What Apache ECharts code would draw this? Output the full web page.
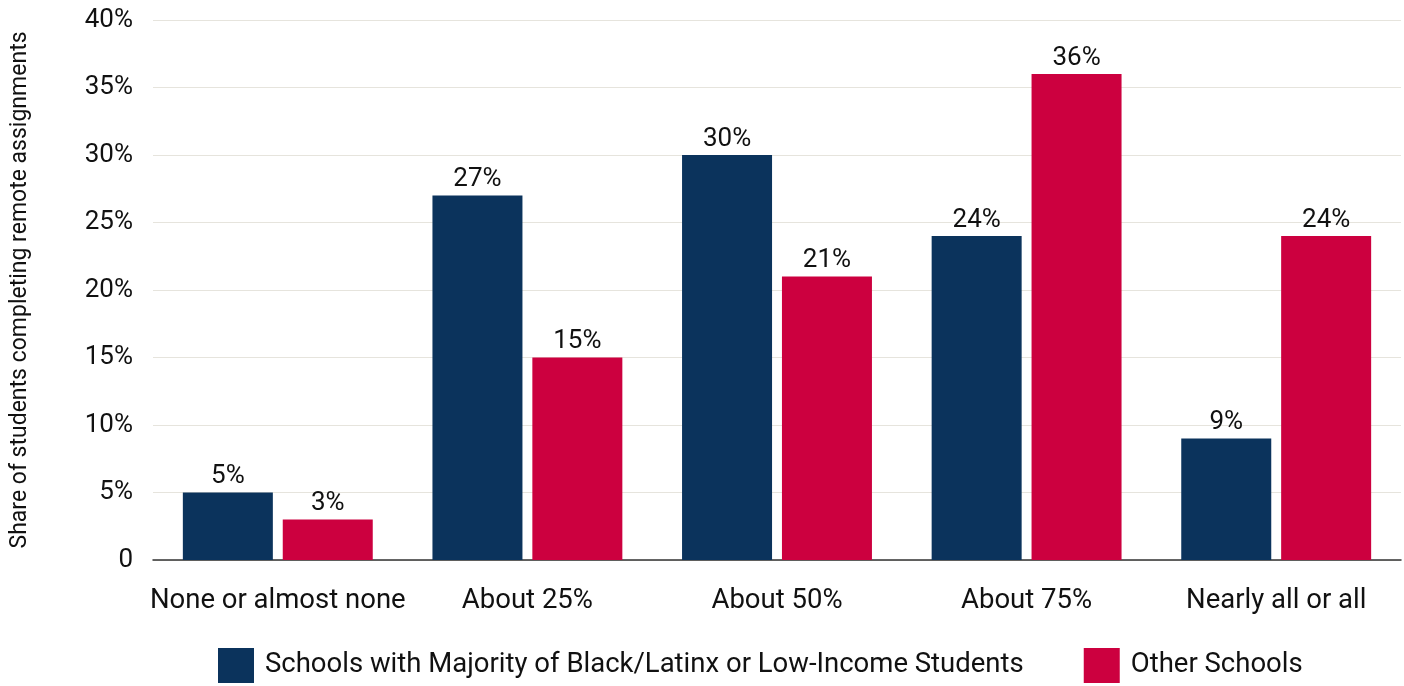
<!DOCTYPE html>
<html>
<head>
<meta charset="utf-8">
<script src="https://cdn.jsdelivr.net/npm/echarts@6/dist/echarts.min.js"></script>
<style>
html,body{margin:0;padding:0;background:#fff;}
#chart{width:1404px;height:686px;}
</style>
</head>
<body>
<div id="chart"></div>
<script>
const categories = ["None or almost none", "About 25%", "About 50%", "About 75%", "Nearly all or all"];
const seriesNames = ["Schools with Majority of Black/Latinx or Low-Income Students", "Other Schools"];
const majorityValues = [5, 27, 30, 24, 9];
const otherValues = [3, 15, 21, 36, 24];
const yAxisName = "Share of students completing remote assignments";

const chart = echarts.init(document.getElementById('chart'), null, {renderer: 'canvas'});
const font = 'Roboto';
const labelCfg = {
  show: true, position: 'top', distance: 3,
  fontFamily: font, fontSize: 26, color: '#111',
  formatter: p => p.value + '%'
};
chart.setOption({
  animation: false,
  textStyle: {fontFamily: font},
  grid: {left: 153, right: 3, top: 20, bottom: 126},
  legend: {
    top: 643, left: 213,
    itemWidth: 36, itemHeight: 35, itemGap: 60,
    icon: 'rect',
    textStyle: {fontFamily: font, fontSize: 27.5, color: '#111', padding: [5, 0, 0, 6]},
    data: seriesNames
  },
  xAxis: {
    type: 'category', data: categories,
    axisLine: {lineStyle: {color: '#333', width: 1.5}},
    axisTick: {show: false},
    axisLabel: {fontFamily: font, fontSize: 27.5, color: '#111', margin: 27, interval: 0}
  },
  yAxis: {
    type: 'value', min: 0, max: 40, interval: 5,
    name: yAxisName, nameLocation: 'middle', nameGap: 121, nameRotate: 90,
    nameTextStyle: {fontFamily: font, fontSize: 23, color: '#111'},
    axisLine: {show: false}, axisTick: {show: false},
    axisLabel: {fontFamily: font, fontSize: 26, color: '#111', margin: 20,
      formatter: v => v === 0 ? '0' : v + '%'},
    splitLine: {lineStyle: {color: '#e6e4dd', width: 1}}
  },
  series: [
    {name: seriesNames[0], type: 'bar', data: majorityValues, barWidth: 90, barGap: '11%',
     itemStyle: {color: '#0b335c'}, label: labelCfg},
    {name: seriesNames[1], type: 'bar', data: otherValues, barWidth: 90,
     itemStyle: {color: '#cc003f'}, label: labelCfg}
  ]
});
</script>
</body>
</html>
